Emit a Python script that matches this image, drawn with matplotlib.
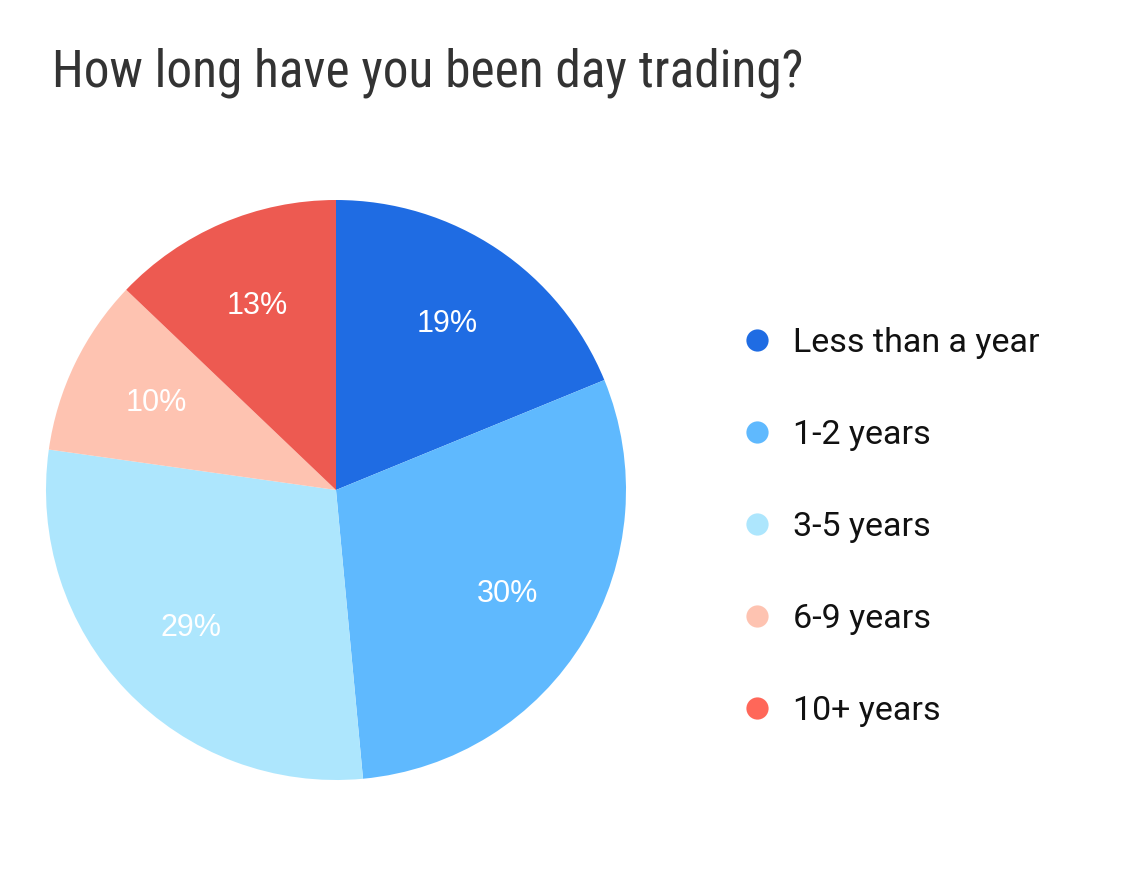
import matplotlib.pyplot as plt
from matplotlib.lines import Line2D

# data
categories = ['Less than a year', '1-2 years', '3-5 years', '6-9 years', '10+ years']
shares = [19, 30, 29, 10, 13]
slice_colors = ['#1f6ce3', '#5fb9fe', '#ade6fd', '#fec3b1', '#ed5a51']
legend_colors = ['#1f6ce3', '#5fb9fe', '#ade6fd', '#fec3b1', '#ff6759']

W, H = 1122, 896
fig = plt.figure(figsize=(W / 100, H / 100), dpi=100)
fig.patch.set_facecolor('white')

# pie: centre (336, 490), radius 290 px
cx, cy, r = 336, 490, 290
ax = fig.add_axes([(cx - r) / W, (H - cy - r) / H, 2 * r / W, 2 * r / H])
wedges, texts, autotexts = ax.pie(
    shares, colors=slice_colors, startangle=90, counterclock=False,
    autopct=lambda p: f'{p * sum(shares) / 100:.0f}%', pctdistance=0.69,
    wedgeprops=dict(linewidth=0),
    textprops=dict(color='white', fontsize=22, family=['Liberation Sans', 'DejaVu Sans']))
ax.set_aspect('equal')
ax.set_xlim(-1, 1)
ax.set_ylim(-1, 1)

fig.text(52 / W, 1 - 73 / H, 'How long have you been day trading?',
         fontsize=37, color='#333333', va='center', ha='left',
         family=['Liberation Sans Narrow', 'Roboto Condensed', 'DejaVu Sans'])

handles = [Line2D([], [], marker='o', linestyle='none', markersize=16,
                  markerfacecolor=c, markeredgewidth=0) for c in legend_colors]
leg = fig.legend(handles, categories, loc='upper left',
                 bbox_to_anchor=(723 / W, 1 - 313 / H), frameon=False,
                 labelspacing=1.765, handletextpad=0.45,
                 handlelength=1.2, borderaxespad=0,
                 prop=dict(family=['Roboto', 'DejaVu Sans'], size=24.5))
for t in leg.get_texts():
    t.set_color('#111111')

fig.savefig('out.png', dpi=100, facecolor='white')
